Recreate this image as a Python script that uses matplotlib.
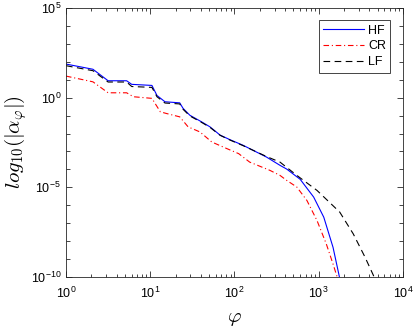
import numpy as np
import matplotlib
matplotlib.use('Agg')
import matplotlib.pyplot as plt
from matplotlib.ticker import FixedLocator, NullFormatter, LogLocator

plt.rcParams['font.family'] = ['Liberation Sans', 'DejaVu Sans']
plt.rcParams['mathtext.fontset'] = 'cm'

# data: log10(phi), log10(|alpha|)
hf_logphi = [0, 0.32, 0.50, 0.72, 0.78, 1.02, 1.08, 1.175, 1.35, 1.39, 1.47, 1.61, 1.71, 1.83,
             1.95, 2.10, 2.38, 2.54, 2.62, 2.78, 2.94, 3.06, 3.17, 3.26]
hf_logalpha = [1.87, 1.58, 0.94, 0.94, 0.74, 0.68, 0.12, -0.23, -0.29, -0.60, -0.98, -1.35, -1.63, -2.09,
               -2.35, -2.65, -3.31, -3.77, -3.98, -4.55, -5.54, -6.66, -8.34, -10.3]

cr_logphi = [0, 0.32, 0.50, 0.72, 0.80, 1.02, 1.12, 1.19, 1.35, 1.45, 1.59, 1.73, 1.91, 2.05,
             2.18, 2.42, 2.54, 2.62, 2.74, 2.86, 2.98, 3.09, 3.17, 3.24]
cr_logalpha = [1.20, 0.88, 0.27, 0.27, 0.05, -0.04, -0.79, -0.88, -1.07, -1.63, -1.91, -2.47, -2.84, -3.12,
               -3.59, -4.05, -4.33, -4.61, -4.98, -5.73, -6.85, -8.15, -9.27, -10.3]

lf_logphi = [0, 0.32, 0.50, 0.72, 0.78, 1.02, 1.08, 1.175, 1.35, 1.39, 1.47, 1.61, 1.71, 1.83,
             1.95, 2.10, 2.38, 2.54, 2.74, 2.98, 3.25, 3.41, 3.55, 3.65, 3.67]
lf_logalpha = [1.78, 1.50, 0.87, 0.87, 0.62, 0.57, 0.05, -0.30, -0.35, -0.65, -1.02, -1.38, -1.66, -2.10,
               -2.37, -2.67, -3.28, -3.59, -4.33, -5.17, -6.38, -7.59, -8.89, -9.91, -10.3]

fig = plt.figure(figsize=(4.15, 3.28), dpi=100)
ax = fig.add_axes([0.159, 0.155, 0.812, 0.821])

ax.plot(10 ** np.array(hf_logphi), 10 ** np.array(hf_logalpha), color='#0000ff', lw=0.8, label='HF')
ax.plot(10 ** np.array(cr_logphi), 10 ** np.array(cr_logalpha), color='#ff0000', lw=0.8,
        dashes=(5, 2.5, 1, 2.5), label='CR')
ax.plot(10 ** np.array(lf_logphi), 10 ** np.array(lf_logalpha), color='black', lw=0.8,
        dashes=(6, 4), label='LF')

ax.set_xscale('log')
ax.set_yscale('log')
ax.set_xlim(1, 1e4)
ax.set_ylim(1e-10, 1e5)

ax.yaxis.set_major_locator(FixedLocator([1e-10, 1e-5, 1e0, 1e5]))
ax.yaxis.set_minor_locator(FixedLocator(10.0 ** np.arange(-10, 6)))
ax.yaxis.set_minor_formatter(NullFormatter())
ax.xaxis.set_major_locator(FixedLocator([1, 10, 100, 1000, 10000]))
ax.xaxis.set_minor_locator(LogLocator(base=10, subs=np.arange(2, 10), numticks=20))
ax.xaxis.set_minor_formatter(NullFormatter())

ax.tick_params(which='both', direction='in', top=True, right=True, labelsize=9, width=0.6,
               colors='#262626', labelcolor='black')
ax.tick_params(which='major', length=4)
ax.tick_params(which='minor', length=2.5)
ax.tick_params(axis='y', which='minor', length=3)
ax.tick_params(axis='x', which='major', pad=6)
for s in ax.spines.values():
    s.set_linewidth(0.6)
    s.set_color('#262626')

ax.set_xlabel(r'$\varphi$', fontsize=15, labelpad=6)
ax.set_ylabel(r'$log_{10}(|\alpha_{\varphi}|)$', fontsize=15, labelpad=1)

leg = ax.legend(loc='upper right', fontsize=9, handlelength=3.3, handletextpad=0.3,
                borderpad=0.35, labelspacing=0.3, fancybox=False, framealpha=1,
                borderaxespad=1.0)
leg.get_frame().set_edgecolor('#262626')
leg.get_frame().set_linewidth(0.6)

fig.savefig('out.png', dpi=100)
